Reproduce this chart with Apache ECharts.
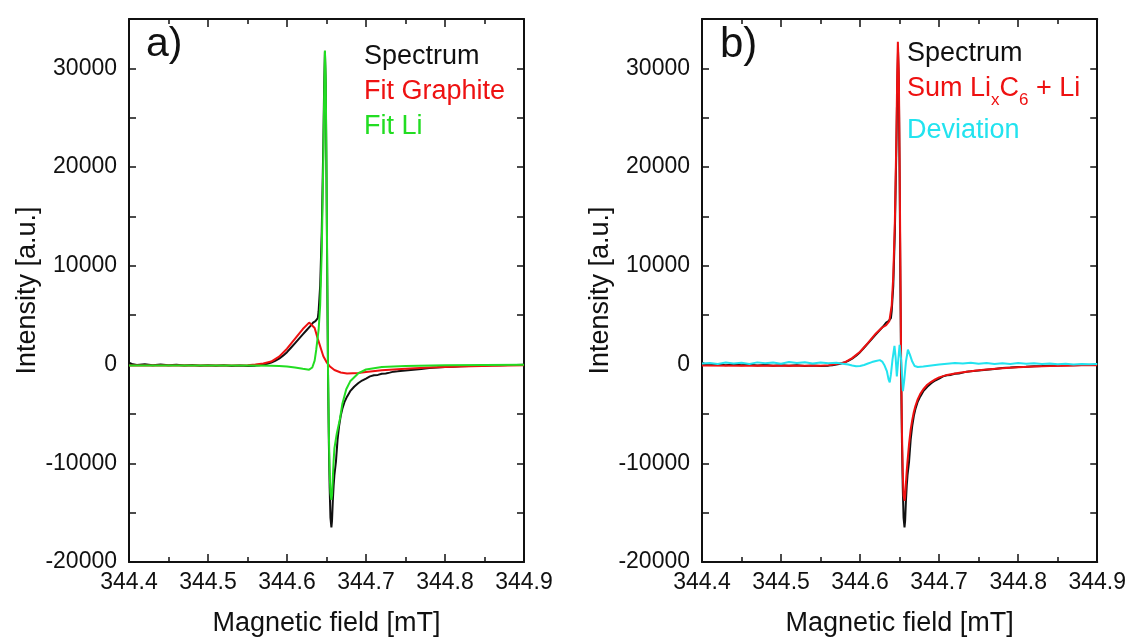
<!DOCTYPE html>
<html>
<head>
<meta charset="utf-8">
<script src="https://cdn.jsdelivr.net/npm/echarts@6/dist/echarts.min.js"></script>
<style>
html,body{margin:0;padding:0;background:#fff;}
#chart{width:1129px;height:642px;}
</style>
</head>
<body>
<div id="chart"></div>
<script>
// ---------- data ----------
const fieldMin = 344.4, fieldMax = 344.9;
const intensityMin = -20000, intensityMax = 35000;

// Measured spectrum (black), used in both panels
const spectrumField = [344.400,344.405,344.41,344.42,344.43,344.44,344.45,344.46,344.47,344.48,344.49,344.50,344.51,344.52,344.53,344.54,344.55,344.56,344.565,344.57,344.575,344.58,344.585,344.59,344.595,344.60,344.605,344.61,344.615,344.62,344.625,344.63,344.633,344.636,344.638,344.639,344.640,344.642,344.644,344.646,344.647,344.648,344.649,344.650,344.651,344.652,344.653,344.654,344.655,344.6562,344.657,344.658,344.659,344.660,344.662,344.664,344.666,344.668,344.670,344.673,344.676,344.680,344.685,344.690,344.695,344.700,344.705,344.71,344.715,344.72,344.725,344.73,344.735,344.74,344.75,344.76,344.77,344.78,344.79,344.80,344.81,344.82,344.83,344.84,344.85,344.86,344.87,344.88,344.89,344.90];
const spectrumIntensity = [180,20,-40,30,-60,10,-80,-20,-90,-40,-110,-60,-130,-80,-140,-100,-150,-110,-60,0,80,200,380,600,900,1250,1700,2150,2600,3050,3500,3950,4250,4400,4450,4700,5400,8000,13500,22500,28000,31700,28500,19000,8000,-1500,-8000,-12500,-15500,-16500,-15800,-13800,-12300,-11200,-9800,-7600,-6200,-5200,-4500,-3750,-3250,-2700,-2250,-1900,-1620,-1420,-1200,-1080,-1050,-930,-900,-820,-720,-690,-610,-520,-450,-360,-310,-250,-220,-170,-150,-120,-100,-80,-70,-50,-40,-30];

// Fit Graphite (red, panel a)
const graphiteField = [344.40,344.45,344.50,344.55,344.56,344.57,344.58,344.59,344.60,344.61,344.62,344.628,344.635,344.639,344.646,344.650,344.654,344.660,344.668,344.676,344.690,344.700,344.72,344.75,344.78,344.82,344.86,344.90];
const graphiteIntensity = [-100,-100,-100,-80,0,100,300,800,1600,2600,3600,4250,3700,2600,840,250,-170,-550,-800,-900,-850,-750,-580,-420,-300,-200,-130,-80];

// Fit Li (green, panel a)
const liField = [344.40,344.45,344.50,344.55,344.58,344.59,344.60,344.61,344.62,344.628,344.632,344.635,344.637,344.640,344.642,344.644,344.646,344.647,344.648,344.649,344.650,344.651,344.652,344.653,344.654,344.655,344.6562,344.657,344.658,344.659,344.660,344.663,344.667,344.670,344.675,344.680,344.690,344.700,344.72,344.75,344.80,344.85,344.90];
const liIntensity = [-100,-100,-100,-100,-120,-150,-200,-300,-430,-520,-300,400,1500,3500,6000,11500,21000,27000,31800,29000,20000,9000,-1000,-7000,-11000,-13000,-13700,-13200,-11500,-9800,-8500,-7000,-5500,-4000,-2500,-1700,-900,-500,-260,-150,-80,-50,-30];

// Sum LixC6 + Li (red, panel b)
const sumField = [344.40,344.45,344.50,344.55,344.56,344.57,344.58,344.59,344.60,344.61,344.62,344.628,344.633,344.637,344.640,344.642,344.644,344.646,344.647,344.6478,344.649,344.650,344.651,344.652,344.653,344.654,344.655,344.6563,344.657,344.658,344.659,344.660,344.662,344.664,344.666,344.668,344.670,344.673,344.676,344.680,344.685,344.690,344.695,344.700,344.71,344.72,344.73,344.74,344.75,344.76,344.78,344.80,344.82,344.84,344.86,344.88,344.90];
const sumIntensity = [-100,-110,-120,-130,-80,50,200,650,1300,2200,3150,3750,4000,4400,6000,9000,14500,23500,29500,32700,29500,21000,10000,-500,-7000,-11000,-13300,-13800,-13300,-12000,-10800,-9800,-8000,-6600,-5600,-4800,-4200,-3500,-3000,-2500,-2050,-1750,-1500,-1300,-1050,-900,-780,-680,-580,-500,-370,-280,-210,-160,-120,-80,-60];

// Deviation (cyan, panel b)
const deviationField = [344.40,344.41,344.42,344.43,344.44,344.45,344.46,344.47,344.48,344.49,344.50,344.51,344.52,344.53,344.54,344.55,344.56,344.57,344.58,344.585,344.59,344.595,344.60,344.605,344.61,344.615,344.62,344.625,344.628,344.631,344.634,344.636,344.6375,344.639,344.641,344.6435,344.645,344.6465,344.648,344.650,344.652,344.6542,344.656,344.658,344.6605,344.663,344.666,344.669,344.673,344.68,344.69,344.70,344.71,344.72,344.73,344.74,344.75,344.76,344.77,344.78,344.79,344.80,344.81,344.82,344.83,344.84,344.85,344.86,344.87,344.88,344.89,344.90];
const deviationIntensity = [100,150,50,200,100,180,60,220,120,200,80,250,150,230,100,200,120,180,60,0,-100,-180,-150,-50,100,250,350,450,300,-100,-700,-1500,-1800,-1000,500,1900,700,-1200,200,2000,400,-2700,-1500,300,1500,1000,300,-150,-250,-200,-100,0,80,150,100,180,80,150,50,120,60,150,80,120,50,100,30,80,0,60,20,50];

function pairs(xs, ys) { return xs.map((x, i) => [x, ys[i]]); }

// ---------- chart ----------
const FONT = "'Liberation Sans', Arial, sans-serif";
const chart = echarts.init(document.getElementById('chart'), null, {renderer: 'canvas'});

const grids = [
  {left: 129, top: 19, width: 395, height: 544},
  {left: 702, top: 19, width: 396, height: 544}
];

function xAx(gridIndex, pos) {
  const main = pos === 'bottom';
  return {
    type: 'value', gridIndex, position: pos,
    min: fieldMin, max: fieldMax, interval: 0.1,
    name: main ? 'Magnetic field [mT]' : '',
    nameLocation: 'middle', nameGap: 48,
    nameTextStyle: {fontFamily: FONT, fontSize: 27, color: '#111'},
    axisLine: {show: true, onZero: false, lineStyle: {color: '#111', width: 2}},
    axisTick: {show: true, inside: true, length: 8, lineStyle: {color: '#111', width: 1.5}},
    minorTick: {show: true, splitNumber: 2, length: 5, lineStyle: {color: '#111', width: 1.5}},
    axisLabel: {show: main, margin: 9, fontFamily: FONT, fontSize: 23, color: '#111',
      formatter: v => v.toFixed(1)},
    splitLine: {show: false}, minorSplitLine: {show: false}
  };
}
function yAx(gridIndex, pos) {
  const main = pos === 'left';
  return {
    type: 'value', gridIndex, position: pos,
    min: intensityMin, max: intensityMax, interval: 5000,
    name: main ? 'Intensity [a.u.]' : '',
    nameLocation: 'middle', nameGap: 88,
    nameTextStyle: {fontFamily: FONT, fontSize: 27, color: '#111'},
    axisLine: {show: true, onZero: false, lineStyle: {color: '#111', width: 2}},
    axisTick: {show: true, inside: true, length: 7, lineStyle: {color: '#111', width: 1.5}},
    axisLabel: {show: main, margin: 12, fontFamily: FONT, fontSize: 23, color: '#111',
      formatter: v => (v % 10000 === 0 && v <= 30000) ? String(v) : ''},
    splitLine: {show: false}
  };
}

function line(name, xi, yi, data, color, z) {
  return {
    type: 'line', name, xAxisIndex: xi, yAxisIndex: yi, data,
    showSymbol: false, symbol: 'none', smooth: false, z: z,
    lineStyle: {color, width: 2}, itemStyle: {color}
  };
}

const option = {
  animation: false,
  backgroundColor: '#fff',
  grid: grids,
  xAxis: [xAx(0, 'bottom'), xAx(0, 'top'), xAx(1, 'bottom'), xAx(1, 'top')],
  yAxis: [yAx(0, 'left'), yAx(0, 'right'), yAx(1, 'left'), yAx(1, 'right')],
  series: [
    line('Spectrum', 0, 0, pairs(spectrumField, spectrumIntensity), '#111111', 2),
    line('Fit Graphite', 0, 0, pairs(graphiteField, graphiteIntensity), '#ee1111', 3),
    line('Fit Li', 0, 0, pairs(liField, liIntensity), '#22dd22', 4),
    line('Spectrum', 2, 2, pairs(spectrumField, spectrumIntensity), '#111111', 2),
    line('Sum LixC6 + Li', 2, 2, pairs(sumField, sumIntensity), '#ee1111', 3),
    line('Deviation', 2, 2, pairs(deviationField, deviationIntensity), '#22e3ef', 4)
  ],
  graphic: [
    {type: 'text', x: 146, y: 45, style: {text: 'a)', font: '41px ' + FONT, fill: '#111', verticalAlign: 'middle'}},
    {type: 'text', x: 720, y: 45, style: {text: 'b)', font: '42px ' + FONT, fill: '#111', verticalAlign: 'middle'}},
    {type: 'text', x: 364, y: 57, style: {text: 'Spectrum', font: '27px ' + FONT, fill: '#111', verticalAlign: 'middle'}},
    {type: 'text', x: 364, y: 92, style: {text: 'Fit Graphite', font: '27px ' + FONT, fill: '#ee1111', verticalAlign: 'middle'}},
    {type: 'text', x: 364, y: 127, style: {text: 'Fit Li', font: '27px ' + FONT, fill: '#22dd22', verticalAlign: 'middle'}},
    {type: 'text', x: 907, y: 54, style: {text: 'Spectrum', font: '27px ' + FONT, fill: '#111', verticalAlign: 'middle'}},
    {type: 'text', x: 907, y: 89, style: {
      text: '{m|Sum Li}{s|x}{m|C}{s|6}{m| + Li}', verticalAlign: 'middle', fill: '#ee1111',
      rich: {
        m: {fontFamily: FONT, fontSize: 27, color: '#ee1111', lineHeight: 40, verticalAlign: 'middle'},
        s: {fontFamily: FONT, fontSize: 17, color: '#ee1111', lineHeight: 16, verticalAlign: 'bottom'}
      }}},
    {type: 'text', x: 907, y: 131, style: {text: 'Deviation', font: '27px ' + FONT, fill: '#22e3ef', verticalAlign: 'middle'}}
  ]
};
chart.setOption(option);
</script>
</body>
</html>
